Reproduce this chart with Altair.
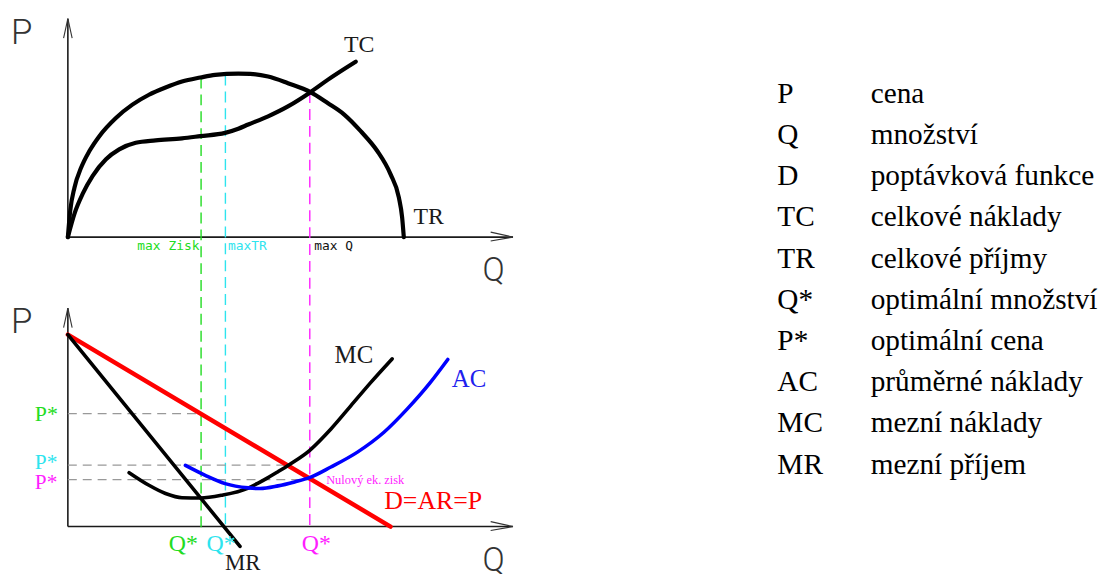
import altair as alt
import pandas as pd

# ---------------- diagram data (figure pixel coordinates, y grows downward) ----------------
# Top panel: total revenue (TR) and total cost (TC)
TR_X = [68.3, 70.7, 75, 81.7, 90, 100, 116.7, 133.3, 150, 166.7, 183.3, 201.7, 216.7, 240, 252,
        270, 290, 312.7, 330, 346.7, 363.3, 380, 393.3, 401.7, 405, 406.7]
TR_Y = [236.7, 210, 186.7, 166.7, 150, 135, 116.7, 103.3, 93.3, 86, 80, 76, 73.3, 72, 72.3,
        75, 81.7, 90.7, 101.7, 113.3, 130, 150, 173.3, 196.7, 216.7, 236.7]
TC_X = [68.3, 75, 83.3, 93.3, 106.7, 120, 136.7, 156.7, 183.3, 201.7, 226.7, 240, 250, 270, 290,
        312.7, 330, 358.3]
TC_Y = [236.7, 213, 193, 175, 158.3, 148.3, 141.7, 139.3, 137.3, 135, 131.7, 127.5, 123.3, 115, 105,
        90.7, 78.3, 60]

# Bottom panel: demand D, marginal revenue MR, marginal cost MC, average cost AC
D_X = [68.3, 393.3]
D_Y = [335, 528.3]
MR_X = [68.3, 241.7]
MR_Y = [335, 548.3]
MC_X = [130, 150, 166.7, 183.3, 201.7, 223.3, 250, 260, 270, 280, 291.7, 311.7, 333.3, 353.3, 373.3, 395]
MC_Y = [474, 486.7, 495, 499.3, 499.5, 496.7, 489.5, 484.5, 479, 473, 465.7, 451.7, 430, 406.7, 383.3, 359.3]
AC_X = [186.7, 206.7, 226.7, 250, 262, 280, 296.7, 311.7, 333.3, 360, 386.7, 410, 433.3, 451]
AC_Y = [466.7, 476.7, 485, 489.3, 490, 487.3, 483.3, 479, 468.3, 453.3, 433.3, 410, 383.3, 360]

# Optimum quantities (max profit, max TR, max Q) and matching prices
Q_OPT = {"green": 202.5, "cyan": 227.0, "magenta": 312.0}
Q_TOP = {"green": 76.0, "cyan": 73.0, "magenta": 90.7}
P_OPT = {"green": 414.5, "cyan": 466.5, "magenta": 481.0}
P_END = {"green": 202.5, "cyan": 290.0, "magenta": 312.0}

LEGEND_SYMBOLS = ["P", "Q", "D", "TC", "TR", "Q*", "P*", "AC", "MC", "MR"]
LEGEND_TEXTS = ["cena", "množství", "poptávková funkce", "celkové náklady", "celkové příjmy",
                "optimální množství", "optimální cena", "průměrné náklady", "mezní náklady",
                "mezní příjem"]

COL = {"green": "#22dc22", "cyan": "#2ee4ee", "magenta": "#ff1eff"}
SERIF = "'Liberation Serif', 'Times New Roman', serif"

# ---------------- helpers ----------------
XS = alt.Scale(domain=[8, 1108], nice=False, zero=False)
YS = alt.Scale(domain=[8, 574], reverse=True, nice=False, zero=False)


def X(f="x"):
    return alt.X(f + ":Q", scale=XS, axis=None)


def Y(f="y"):
    return alt.Y(f + ":Q", scale=YS, axis=None)


def curve(xs, ys, color, width, interp="monotone"):
    df = pd.DataFrame({"x": xs, "y": ys, "i": list(range(len(xs)))})
    return alt.Chart(df).mark_line(color=color, strokeWidth=width, interpolate=interp,
                                   strokeCap="round", strokeJoin="round").encode(
        x=X(), y=Y(), order="i:Q")


def segments(rows, color, width, dash=None):
    df = pd.DataFrame(rows, columns=["x", "y", "x2", "y2"])
    kw = dict(color=color, strokeWidth=width)
    if dash:
        kw["strokeDash"] = dash
    return alt.Chart(df).mark_rule(**kw).encode(
        x=X(), y=Y(), x2=alt.X2("x2:Q"), y2=alt.Y2("y2:Q"))


def texts(rows, font, weight="normal"):
    df = pd.DataFrame(rows, columns=["x", "y", "t", "c", "s"])
    return alt.Chart(df).mark_text(align="left", baseline="alphabetic", font=font,
                                   fontWeight=weight).encode(
        x=X(), y=Y(), text="t:N",
        color=alt.Color("c:N", scale=None),
        size=alt.Size("s:Q", scale=None))


layers = []

# ---------------- axes ----------------
axis_rows, arrow_rows = [], []
for oy, top in [(236.7, 16.7), (528.3, 308.3)]:
    ox, xe = 68.3, 516.7
    axis_rows += [(ox, oy, ox, top), (ox, oy, xe, oy)]
    arrow_rows += [(ox - 4.3, top + 19.5, ox, top), (ox + 4.3, top + 19.5, ox, top),
                   (xe - 22.5, oy - 5, xe, oy), (xe - 22.5, oy + 4, xe, oy)]
layers.append(segments(axis_rows, "#1a1a1a", 1.6))
layers.append(segments(arrow_rows, "#333333", 1.1))

# ---------------- dashed guides ----------------
for k in ["green", "cyan", "magenta"]:
    layers.append(segments([(Q_OPT[k], Q_TOP[k], Q_OPT[k], 529)], COL[k], 1.4, [11, 6]))
layers.append(segments([(68.3, P_OPT[k], P_END[k], P_OPT[k]) for k in ["green", "cyan", "magenta"]],
                       "#999999", 1.3, [9, 6]))

# ---------------- curves ----------------
layers.append(curve(TR_X, TR_Y, "#000000", 4.2))
layers.append(curve(TC_X, TC_Y, "#000000", 4.2))
layers.append(curve(D_X, D_Y, "#ff0000", 4.5, "linear"))
layers.append(curve(MR_X, MR_Y, "#000000", 3.6, "linear"))
layers.append(curve(MC_X, MC_Y, "#000000", 3.6))
layers.append(curve(AC_X, AC_Y, "#0000ff", 3.6))

# ---------------- labels ----------------
serif = [
    (346.5, 50, "TC", "#1a1a1a", 24),
    (416.5, 223.5, "TR", "#1a1a1a", 24),
    (337, 363.5, "MC", "#1a1a1a", 25),
    (455, 388, "AC", "#2020ee", 25),
    (387, 511, "D=AR=P", "#ff0000", 26),
    (328.5, 485, "Nulový ek. zisk", COL["magenta"], 12.5),
    (35, 421.5, "P*", COL["green"], 22),
    (35, 470.5, "P*", COL["cyan"], 21.5),
    (35, 490, "P*", COL["magenta"], 21.5),
    (170, 553, "Q*", COL["green"], 24),
    (208, 553, "Q*", COL["cyan"], 24),
    (304, 553, "Q*", COL["magenta"], 24),
    (226.5, 572.5, "MR", "#1a1a1a", 23),
]
for i, (sym, txt) in enumerate(zip(LEGEND_SYMBOLS, LEGEND_TEXTS)):
    yb = 101.5 + 41.5 * i
    serif.append((783, yb, sym, "#000000", 29.5))
    serif.append((877, yb, txt, "#000000", 29.5))
layers.append(texts(serif, SERIF))

sans = [
    (11, 42, "P", "#333333", 35),
    (486, 281, "Q", "#333333", 33),
    (11, 333.6, "P", "#333333", 35),
    (486, 572.6, "Q", "#333333", 33),
]
layers.append(texts(sans, "Roboto", 300))

mono = [
    (138.3, 250, "max Zisk", COL["green"], 13),
    (229.5, 250, "maxTR", COL["cyan"], 13),
    (316.5, 250, "max Q", "#111111", 13),
]
layers.append(texts(mono, "DejaVu Sans Mono"))

chart = alt.layer(*layers).properties(
    width=1100, height=566, padding=0,
    autosize=alt.AutoSizeParams(type="none"),
).configure_view(strokeWidth=0)

chart.save("out.html", embed_options={"renderer": "svg", "actions": False})
